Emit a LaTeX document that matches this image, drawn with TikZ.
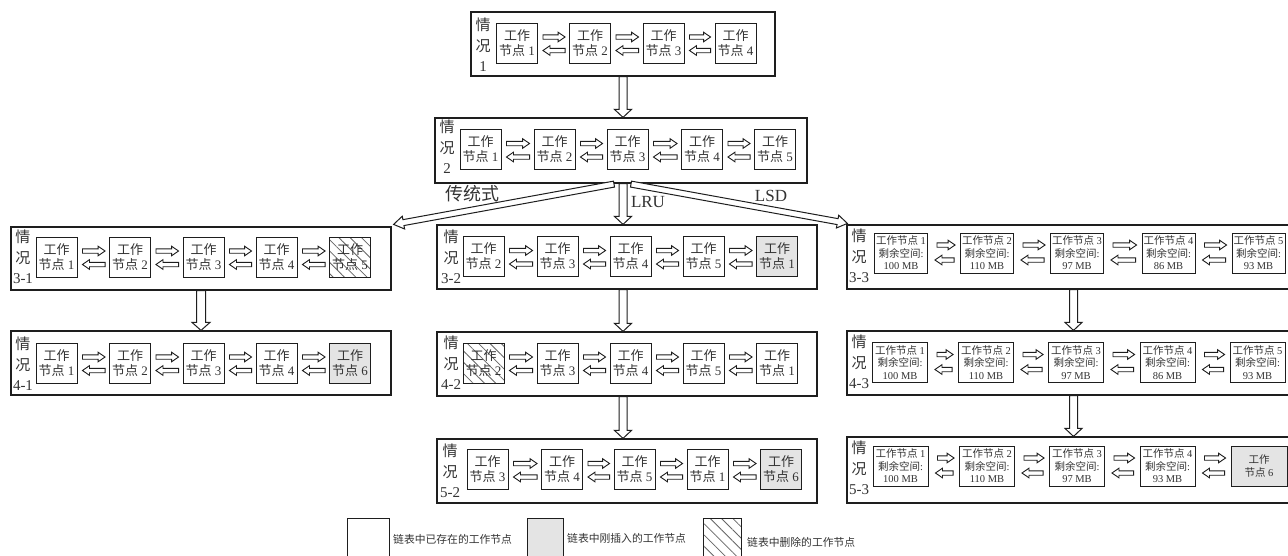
\documentclass[tikz,border=0pt]{standalone}
\usepackage{fontspec}
\setmainfont{Liberation Serif}
\newfontfamily\cjk{Noto Sans CJK SC}
\usetikzlibrary{calc,patterns.meta}
\definecolor{ins}{HTML}{E4E4E4}
\definecolor{ln}{HTML}{1E1E1E}
\definecolor{txt}{HTML}{333333}
\newcommand\wt[1]{{\cjk 工作}\\{\cjk 节点} #1}
\newcommand\wl[2]{{\cjk 工作节点} #1\\{\cjk 剩余空间}:\\#2 MB}
\newcommand\qk[1]{{\cjk 情}\\{\cjk 况}\\#1}
\newcommand\harrow[6][arr]{%
  \coordinate (ha) at #2; \coordinate (hb) at #3;
  \coordinate (hh) at ($(hb)!#6!(ha)$);
  \draw[#1] ($(ha)!#4!90:(hb)$) -- ($(hh)!#4!90:(hb)$) -- ($(hh)!#5!90:(hb)$) -- (hb)
    -- ($(hh)!#5!-90:(hb)$) -- ($(hh)!#4!-90:(hb)$) -- ($(ha)!#4!-90:(hb)$) -- cycle;}
\newcommand\pa[2]{%
  \harrow{($(#1.east)+(5,-6)$)}{($(#2.west)+(-4,-6)$)}{2.2pt}{4.8pt}{7pt}
  \harrow{($(#2.west)+(-4,7.5)$)}{($(#1.east)+(5,7.5)$)}{2.2pt}{4.8pt}{7pt}}
\newcommand\pb[2]{%
  \harrow{($(#1.east)+(9,-8)$)}{($(#2.west)+(-5,-8)$)}{2.2pt}{4.8pt}{7pt}
  \harrow{($(#2.west)+(-6,7)$)}{($(#1.east)+(7,7)$)}{2.2pt}{4.8pt}{7pt}}
\tikzset{
  casebox/.style={draw=ln, line width=1.2pt, rectangle, inner sep=0pt},
  wn/.style={draw=ln, line width=0.9pt, rectangle, inner sep=0pt, minimum width=41pt,
    minimum height=40pt, align=center, text=txt, font=\fontsize{13}{15}\selectfont},
  wnl/.style={wn, minimum width=53pt, font=\fontsize{10.5}{12.6}\selectfont},
  newn/.style={fill=ins},
  deln/.style={pattern={Lines[angle=-45,distance=8pt,line width=0.8pt]}, pattern color=black!60},
  lab/.style={align=center, inner sep=0pt, text=txt, font=\fontsize{15}{20.5}\selectfont},
  arr/.style={draw=ln, line width=0.9pt, fill=white, line join=miter},
  bigarr/.style={draw=ln, line width=1pt, fill=white, line join=miter},
  brl/.style={inner sep=0pt, text=txt},
  legt/.style={inner sep=0pt, anchor=west, text=txt, font=\fontsize{10.8}{12}\selectfont}
}
\begin{document}
\begin{tikzpicture}[x=1pt,y=-1pt]
\useasboundingbox (0,0) rectangle (1288,555);
\fill[white] (0,0) rectangle (1288,555);
\clip (0,0) rectangle (1288,555);
% ---------- case 1
\node[casebox, minimum width=304pt, minimum height=64pt] (c1) at (623,44) {};
\node[lab] (l1) at (483,45) {\qk{1}};
\node[wn] (n11) at (517,43) {\wt{1}};
\node[wn] (n12) at (590,43) {\wt{2}};
\node[wn] (n13) at (663.5,43) {\wt{3}};
\node[wn] (n14) at (735.5,43) {\wt{4}};
\pa{n11}{n12}\pa{n12}{n13}\pa{n13}{n14}
% ---------- case 2
\node[casebox, minimum width=372pt, minimum height=65pt] (c2) at (621,150.5) {};
\node[lab] (l2) at (447,147) {\qk{2}};
\node[wn] (n21) at (480.5,149.5) {\wt{1}};
\node[wn] (n22) at (554.5,149.5) {\wt{2}};
\node[wn] (n23) at (627.5,149.5) {\wt{3}};
\node[wn] (n24) at (702,149.5) {\wt{4}};
\node[wn] (n25) at (775,149.5) {\wt{5}};
\pa{n21}{n22}\pa{n22}{n23}\pa{n23}{n24}\pa{n24}{n25}
% ---------- case 3-1
\node[casebox, minimum width=380pt, minimum height=63pt] (c31) at (201,258.5) {};
\node[lab] (l31) at (23,257) {\qk{3-1}};
\node[wn] (a1) at (56.5,257) {\wt{1}};
\node[wn] (a2) at (130,257) {\wt{2}};
\node[wn] (a3) at (203.5,257) {\wt{3}};
\node[wn] (a4) at (276.5,257) {\wt{4}};
\node[wn, deln] (a5) at (350,257) {\wt{5}};
\pa{a1}{a2}\pa{a2}{a3}\pa{a3}{a4}\pa{a4}{a5}
% ---------- case 4-1
\node[casebox, minimum width=380pt, minimum height=64pt] (c41) at (201,363) {};
\node[lab] (l41) at (23,364) {\qk{4-1}};
\node[wn] (b1) at (56.5,363) {\wt{1}};
\node[wn] (b2) at (130,363) {\wt{2}};
\node[wn] (b3) at (203.5,363) {\wt{3}};
\node[wn] (b4) at (276.5,363) {\wt{4}};
\node[wn, newn] (b5) at (350,363) {\wt{6}};
\pa{b1}{b2}\pa{b2}{b3}\pa{b3}{b4}\pa{b4}{b5}
% ---------- case 3-2
\node[casebox, minimum width=380pt, minimum height=64pt] (c32) at (627,257) {};
\node[lab] (l32) at (451,257) {\qk{3-2}};
\node[wn] (d1) at (483.5,256.5) {\wt{2}};
\node[wn] (d2) at (557.5,256.5) {\wt{3}};
\node[wn] (d3) at (630.5,256.5) {\wt{4}};
\node[wn] (d4) at (703.5,256.5) {\wt{5}};
\node[wn, newn] (d5) at (777,256.5) {\wt{1}};
\pa{d1}{d2}\pa{d2}{d3}\pa{d3}{d4}\pa{d4}{d5}
% ---------- case 4-2
\node[casebox, minimum width=380pt, minimum height=64pt] (c42) at (627,364) {};
\node[lab] (l42) at (451,363) {\qk{4-2}};
\node[wn, deln] (e1) at (483.5,363) {\wt{2}};
\node[wn] (e2) at (557.5,363) {\wt{3}};
\node[wn] (e3) at (630.5,363) {\wt{4}};
\node[wn] (e4) at (703.5,363) {\wt{5}};
\node[wn] (e5) at (777,363) {\wt{1}};
\pa{e1}{e2}\pa{e2}{e3}\pa{e3}{e4}\pa{e4}{e5}
% ---------- case 5-2
\node[casebox, minimum width=380pt, minimum height=64pt] (c52) at (627,471) {};
\node[lab] (l52) at (450,471) {\qk{5-2}};
\node[wn] (f1) at (487.5,469.5) {\wt{3}};
\node[wn] (f2) at (562,469.5) {\wt{4}};
\node[wn] (f3) at (634.5,469.5) {\wt{5}};
\node[wn] (f4) at (707.5,469.5) {\wt{1}};
\node[wn, newn] (f5) at (781,469.5) {\wt{6}};
\pa{f1}{f2}\pa{f2}{f3}\pa{f3}{f4}\pa{f4}{f5}
% ---------- case 3-3
\node[casebox, minimum width=453pt, minimum height=64pt] (c33) at (1073.5,257) {};
\node[lab] (l33) at (859,256) {\qk{3-3}};
\node[wnl] (g1) at (901,253) {\wl{1}{100}};
\node[wnl] (g2) at (987,253) {\wl{2}{110}};
\node[wnl] (g3) at (1077,253) {\wl{3}{97}};
\node[wnl] (g4) at (1168.5,253) {\wl{4}{86}};
\node[wnl] (g5) at (1258.5,253) {\wl{5}{93}};
\pb{g1}{g2}\pb{g2}{g3}\pb{g3}{g4}\pb{g4}{g5}
% ---------- case 4-3
\node[casebox, minimum width=453pt, minimum height=64pt] (c43) at (1073.5,363) {};
\node[lab] (l43) at (859,362) {\qk{4-3}};
\node[wnl, minimum width=55pt] (h1) at (900,362.5) {\wl{1}{100}};
\node[wnl, minimum width=55pt] (h2) at (986,362.5) {\wl{2}{110}};
\node[wnl, minimum width=55pt] (h3) at (1076,362.5) {\wl{3}{97}};
\node[wnl, minimum width=55pt] (h4) at (1167.5,362.5) {\wl{4}{86}};
\node[wnl, minimum width=55pt] (h5) at (1257.5,362.5) {\wl{5}{93}};
\pb{h1}{h2}\pb{h2}{h3}\pb{h3}{h4}\pb{h4}{h5}
% ---------- case 5-3
\node[casebox, minimum width=453pt, minimum height=66pt] (c53) at (1073.5,470) {};
\node[lab] (l53) at (859,468) {\qk{5-3}};
\node[wnl, minimum width=55pt] (k1) at (900.5,466) {\wl{1}{100}};
\node[wnl, minimum width=55pt] (k2) at (987,466) {\wl{2}{110}};
\node[wnl, minimum width=55pt] (k3) at (1077,466) {\wl{3}{97}};
\node[wnl, minimum width=55pt] (k4) at (1167.5,466) {\wl{4}{93}};
\node[wnl, newn, minimum width=56pt] (k5) at (1259,466) {\wt{6}};
\pb{k1}{k2}\pb{k2}{k3}\pb{k3}{k4}\pb{k4}{k5}
% ---------- vertical arrows
\harrow[bigarr]{(c1.south)}{(c1.south |- c2.north)}{4pt}{8.5pt}{8pt}
\harrow[bigarr]{(c31.south)}{(c31.south |- c41.north)}{4.5pt}{9pt}{8pt}
\harrow[bigarr]{($(c32.south)+(-4,0)$)}{($(c42.north)+(-4,0)$)}{4pt}{8.5pt}{8pt}
\harrow[bigarr]{($(c42.south)+(-4,0)$)}{($(c52.north)+(-4,0)$)}{4pt}{8.5pt}{8pt}
\harrow[bigarr]{(c33.south)}{(c33.south |- c43.north)}{4pt}{8.5pt}{8pt}
\harrow[bigarr]{(c43.south)}{(c43.south |- c53.north)}{4pt}{8.5pt}{8pt}
% ---------- branch arrows
\harrow[bigarr]{($(c2.south)+(-7,0.5)$)}{($(c31.north east)+(2,-2)$)}{3pt}{6.5pt}{10pt}
\harrow[bigarr]{($(c2.south)+(2,0)$)}{($(c32.north)+(-4,0)$)}{4pt}{8.5pt}{8pt}
\harrow[bigarr]{($(c2.south)+(10,0.5)$)}{($(c33.north west)+(1,-1)$)}{3pt}{6.5pt}{10pt}
\node[brl, font=\fontsize{18}{18}\selectfont\cjk] (t1) at (472,193.5) {传统式};
\node[brl, font=\fontsize{17}{17}\selectfont] (t2) at (648,202) {LRU};
\node[brl, font=\fontsize{17}{17}\selectfont] (t3) at (771,195.5) {LSD};
% ---------- legend
\node[draw=ln, line width=0.9pt, minimum width=42pt, minimum height=42pt, inner sep=0pt] (k0a) at (368,539) {};
\node[legt] (ta) at (393,539) {\cjk 链表中已存在的工作节点};
\node[draw=ln, line width=0.9pt, fill=ins, minimum width=36pt, minimum height=42pt, inner sep=0pt] (k0b) at (545,539) {};
\node[legt] (tb) at (567,538) {\cjk 链表中刚插入的工作节点};
\node[draw=ln, line width=0.9pt, deln, minimum width=38pt, minimum height=42pt, inner sep=0pt] (k0c) at (722,539) {};
\node[legt] (tc) at (747,542) {\cjk 链表中删除的工作节点};
\end{tikzpicture}
\end{document}
